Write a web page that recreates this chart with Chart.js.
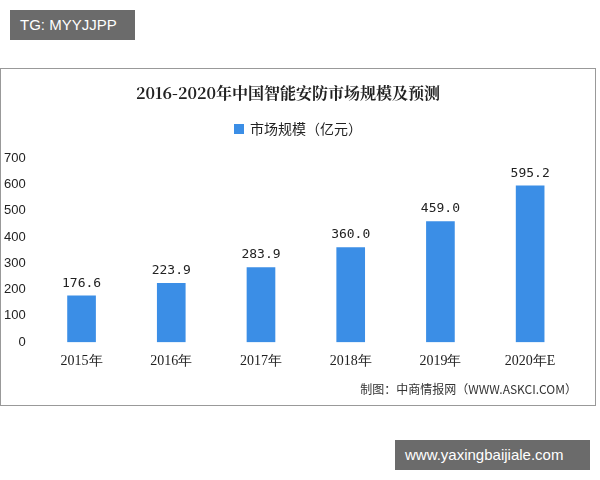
<!DOCTYPE html>
<html><head><meta charset="utf-8">
<script src="https://cdn.jsdelivr.net/npm/chart.js@4"></script>
<style>
body{margin:0;width:600px;height:480px;background:#fff;position:relative;overflow:hidden;font-family:"Noto Sans CJK SC",sans-serif}
#frame{position:absolute;left:0;top:68px;width:596px;height:338px;border:1px solid #999;box-sizing:border-box}
#c{position:absolute;left:0;top:0}
.tag{position:absolute;background:#6b6b6b;color:#fff;font-family:"Liberation Sans",Arial,sans-serif;font-size:15px;line-height:30px;padding:0 10px}
#src{position:absolute;right:18px;bottom:8px;font-size:12px;color:#333}
</style></head><body>
<div id="frame"><canvas id="c" width="594" height="336"></canvas><div id="src">制图：中商情报网（WWW.ASKCI.COM）</div></div>
<div class="tag" style="left:10px;top:10px;width:105px">TG: MYYJJPP</div>
<div class="tag" style="left:395px;top:440px;width:175px">www.yaxingbaijiale.com</div>
<script>
const categories=["2015年","2016年","2017年","2018年","2019年","2020年E"];
const values=[176.6,223.9,283.9,360.0,459.0,595.2];
const yTicks=[0,100,200,300,400,500,600,700];
const seriesName='市场规模（亿元）';
new Chart(document.getElementById('c'),{
type:'bar',
data:{labels:categories,datasets:[{label:seriesName,data:values,backgroundColor:'#3b8ee6',barThickness:28}]},
options:{responsive:false,animation:false,
layout:{padding:{left:0,right:20,top:0,bottom:32}},
plugins:{
title:{display:true,text:'2016-2020年中国智能安防市场规模及预测',font:{family:'Noto Serif CJK SC, Noto Sans CJK SC',size:16,weight:'bold'},color:'#222',padding:{top:14,bottom:56}},
legend:{display:false},
tooltip:{enabled:false}},
scales:{
x:{grid:{display:false},border:{display:false},ticks:{font:{family:'Liberation Serif',size:14},color:'#222'}},
y:{min:0,max:700,grid:{display:false},border:{display:false},afterBuildTicks:a=>{a.ticks=yTicks.map(v=>({value:v}))},ticks:{font:{family:'Liberation Sans',size:13},color:'#222'}}}},
plugins:[{id:'lbl',afterDatasetsDraw(ch){const c=ch.ctx;c.save();c.font='13px "DejaVu Sans Mono"';c.fillStyle='#222';c.textAlign='center';c.textBaseline='bottom';
ch.getDatasetMeta(0).data.forEach((b,i)=>c.fillText(values[i].toFixed(1),b.x,b.y-6));
c.font='14px "Noto Sans CJK SC"';c.textAlign='left';c.textBaseline='middle';
const w=c.measureText(seriesName).width;const x0=(ch.width-w-16)/2;
c.fillStyle='#3b8ee6';c.fillRect(x0,55,10,10);c.fillStyle='#222';c.fillText(seriesName,x0+16,60);
c.restore();}}]
});
</script></body></html>
